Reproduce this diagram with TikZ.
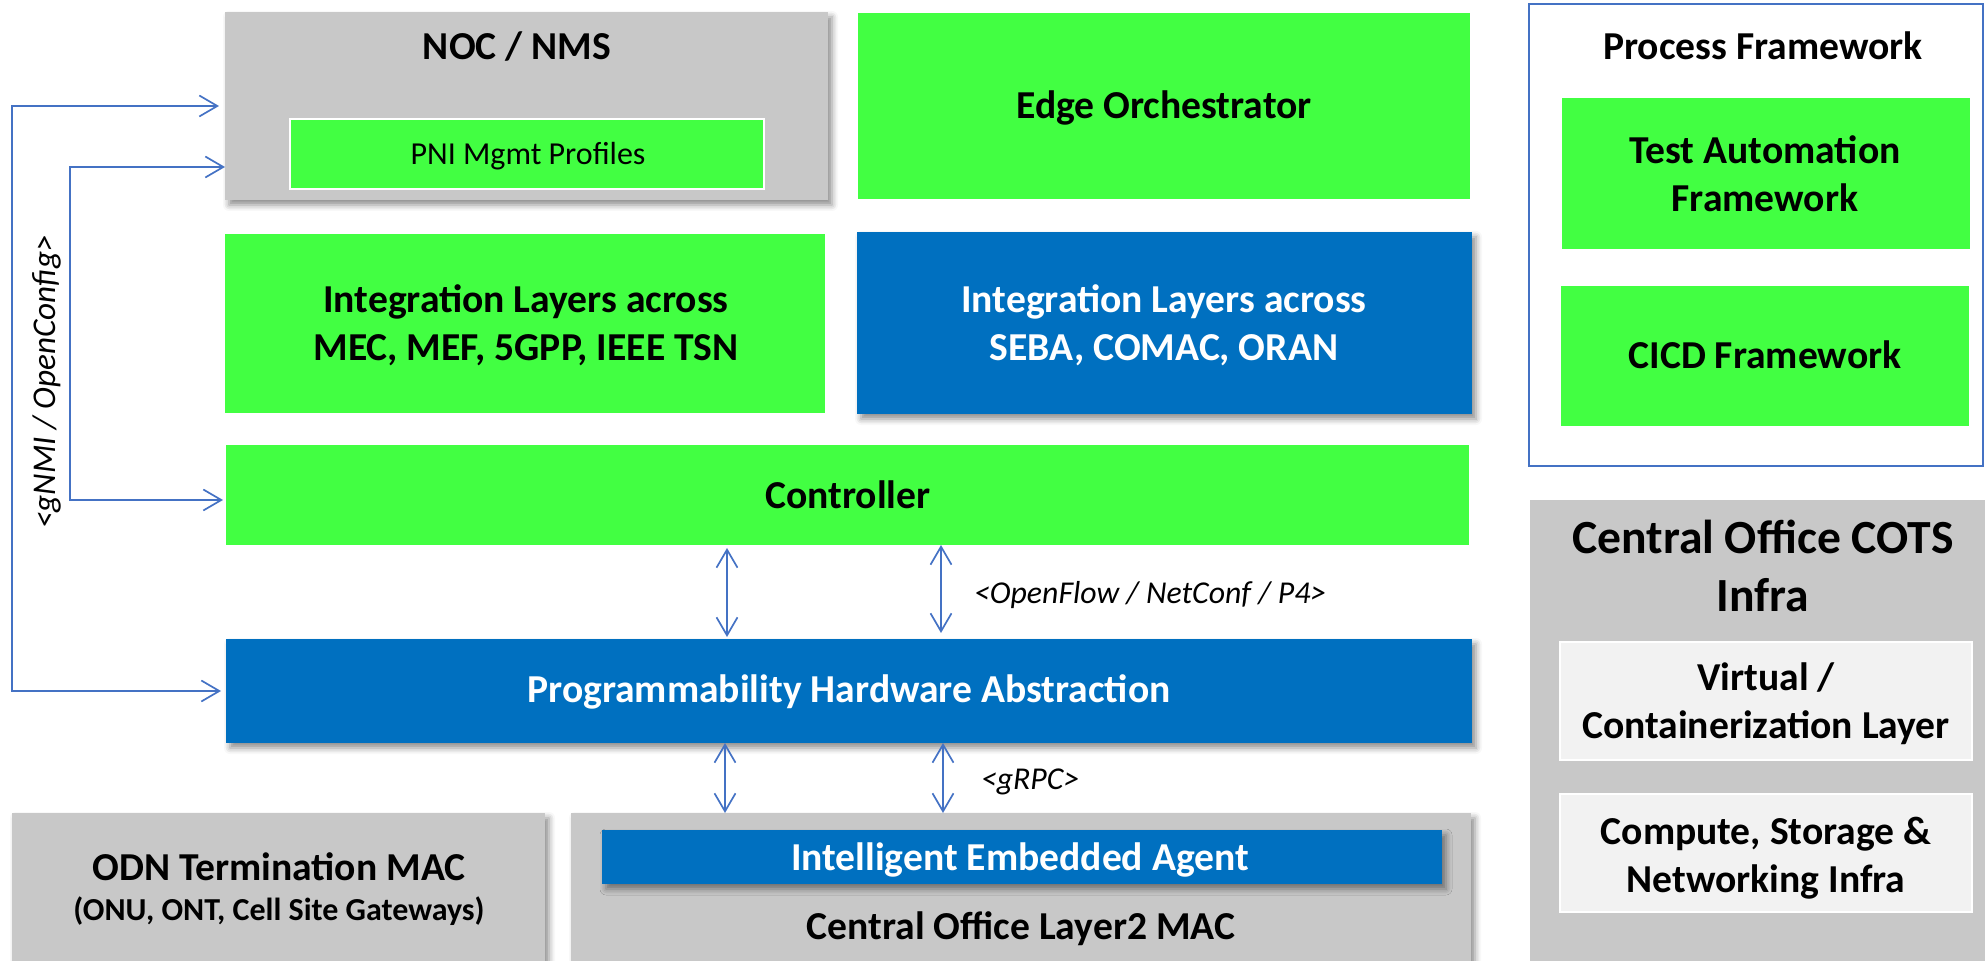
\documentclass[tikz,border=0pt]{standalone}
\usepackage{fontspec}
\setmainfont{Carlito}
\usetikzlibrary{arrows.meta,fit,shadows.blur}

\definecolor{pgreen}{RGB}{66,255,66}
\definecolor{pblue}{RGB}{0,112,192}
\definecolor{pgray}{RGB}{200,200,200}
\definecolor{plight}{RGB}{242,242,242}
\definecolor{plink}{RGB}{68,114,196}

\newcommand\hdfont{\fontsize{19.8pt}{24pt}\selectfont\bfseries}
\newcommand\bigfont{\fontsize{23.8pt}{29pt}\selectfont\bfseries}
\newcommand\subfont{\fontsize{16pt}{19pt}\selectfont\bfseries}
\newcommand\plainfont{\fontsize{16pt}{19pt}\selectfont}
\newcommand\lblfont{\fontsize{15.9pt}{19pt}\selectfont\itshape}

\begin{document}
\begin{tikzpicture}[x=0.5pt,y=-0.5pt,
  blk/.style={inner sep=0pt, outer sep=0pt, draw=none},
  dropsh/.style={blur shadow={shadow xshift=2pt, shadow yshift=-2.5pt,
      shadow blur radius=3pt, shadow opacity=45}},
  grn/.style={blk, fill=pgreen},
  blu/.style={blk, fill=pblue, dropsh},
  gry/.style={blk, fill=pgray},
  lgt/.style={blk, fill=plight, draw=white, line width=1pt},
  txt/.style={inner sep=0pt, outer sep=0pt, align=center, anchor=base, font=\hdfont},
  wtxt/.style={txt, text=white},
  lbl/.style={inner sep=0pt, outer sep=0pt, font=\lblfont},
  link/.style={draw=plink, line width=0.85pt,
      arrows={Straight Barb[length=9pt,width=10.5pt]-Straight Barb[length=9pt,width=10.5pt]}},
]
\useasboundingbox (0,0) rectangle (1985,961);
\clip (0,0) rectangle (1985,961);

% management and orchestration row
\node[gry, dropsh, fit={(225,12) (828,200)}] (noc) {};
\node[txt] (noct) at (517,60) {NOC / NMS};
\node[blk, fill=pgreen, draw=white, line width=1pt, fit={(290,119) (764,189)}] (pni) {};
\node[txt, font=\plainfont] (pnit) at (528,165) {PNI Mgmt Profiles};
\node[grn, fit={(858,13) (1470,199)}] (edge) {};
\node[txt] (edget) at (1164,119) {Edge Orchestrator};

% integration layers
\node[grn, fit={(225,234) (825,413)}] (mec) {};
\node[txt] (mect) at (526,361) {Integration Layers across\\MEC, MEF, 5GPP, IEEE TSN};
\node[blu, fit={(857,232) (1472,414)}] (seba) {};
\node[wtxt] (sebat) at (1164,361) {Integration Layers across\\SEBA, COMAC, ORAN};

% control and abstraction
\node[grn, fit={(226,445) (1469,545)}] (ctrl) {};
\node[txt] (ctrlt) at (848,509) {Controller};
\node[blu, fit={(226,639) (1472,743)}] (pha) {};
\node[wtxt] (phat) at (849,703) {Programmability Hardware Abstraction};

% MAC layer
\node[gry, dropsh, fit={(12,813) (545,985)}] (odn) {};
\node[txt] (odnt) at (279,880) {ODN Termination MAC};
\node[txt, font=\subfont] (odns) at (279,920) {(ONU, ONT, Cell Site Gateways)};
\node[gry, dropsh, fit={(571,813) (1471,985)}] (col2) {};
\node[blu, fit={(602,830) (1442,884)}] (iea) {};
\node[wtxt] (ieat) at (1020,870) {Intelligent Embedded Agent};
\node[txt] (col2t) at (1021,939) {Central Office Layer2 MAC};

% process framework
\node[blk, draw=plink, line width=1pt, fill=white, fit={(1529,4) (1983,466)}] (pf) {};
\node[txt] (pft) at (1763,60) {Process Framework};
\node[grn, fit={(1562,98) (1970,249)}] (tst) {};
\node[txt] (tstt) at (1765,212) {Test Automation\\Framework};
\node[grn, fit={(1561,286) (1969,426)}] (cicd) {};
\node[txt] (cicdt) at (1765,369) {CICD Framework};

% COTS infrastructure
\node[gry, fit={(1530,500) (1995,985)}] (cots) {};
\node[txt, font=\bigfont] (cotst) at (1763,612) {Central Office COTS\\Infra};
\node[lgt, fit={(1560,642) (1972,760)}] (virt) {};
\node[txt] (virtt) at (1766,738) {Virtual /\\Containerization Layer};
\node[lgt, fit={(1560,794) (1972,912)}] (comp) {};
\node[txt] (compt) at (1766,892) {Compute, Storage \&\\Networking Infra};

% gNMI / OpenConfig bus
\coordinate (b1t) at (12,106);
\coordinate (b1b) at (12,691);
\coordinate (b2t) at (70,167);
\coordinate (b2b) at (70,500);
\draw[link, shorten <=3pt, shorten >=2.5pt]
  (noc.west |- b1t) -- (b1t) -- (b1b) -- (pha.west |- b1b);
\draw[link, shorten >=1.5pt]
  (noc.west |- b2t) -- (b2t) -- (b2b) -- (ctrl.west |- b2b);
\node[lbl, rotate=90, font=\fontsize{16.6pt}{20pt}\selectfont\itshape] (gnmi) at (47,382)
  {<gNMI / OpenConfig>};

% southbound links
\coordinate (v1) at (727,0);
\coordinate (v2) at (941,0);
\coordinate (v3) at (725,0);
\coordinate (v4) at (943,0);
\draw[link, shorten <=1.5pt, shorten >=1pt] (ctrl.south -| v1) -- (pha.north -| v1);
\draw[link, shorten >=3pt] (ctrl.south -| v2) -- (pha.north -| v2);
\draw[link] (pha.south -| v3) -- (col2.north -| v3);
\draw[link] (pha.south -| v4) -- (col2.north -| v4);
\node[lbl, anchor=west] (ofl) at (974,595) {<OpenFlow / NetConf / P4>};
\node[lbl, anchor=west] (grpc) at (981,782) {<gRPC>};
\end{tikzpicture}
\end{document}
